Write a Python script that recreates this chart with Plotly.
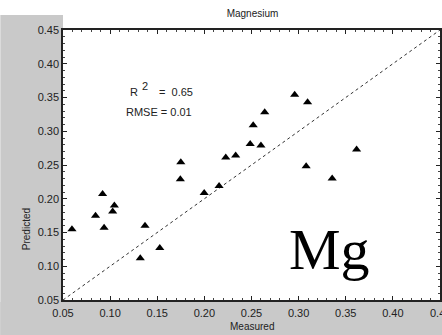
import plotly.graph_objects as go

measured = [0.0595, 0.0845, 0.092, 0.0936, 0.1027, 0.1045, 0.137, 0.132, 0.1527,
            0.175, 0.1745, 0.1998, 0.2156, 0.2227, 0.2332, 0.2486, 0.2518, 0.260,
            0.264, 0.2958, 0.3095, 0.3615, 0.308, 0.3356]
predicted = [0.155, 0.175, 0.207, 0.157, 0.181, 0.190, 0.160, 0.112, 0.127,
             0.254, 0.229, 0.2085, 0.219, 0.261, 0.264, 0.281, 0.309, 0.279,
             0.328, 0.354, 0.343, 0.273, 0.248, 0.230]
line_pts = [0.05, 0.45]
tick_vals = [0.05, 0.10, 0.15, 0.20, 0.25, 0.30, 0.35, 0.40, 0.45]
tick_text = ["0.05", "0.10", "0.15", "0.20", "0.25", "0.30", "0.35", "0.40", "0.45"]

W, H = 442, 335
L, R, T, B = 63, 0, 30, 35
pw, ph = W - L - R, H - T - B

fig = go.Figure()
fig.add_trace(go.Scatter(x=line_pts, y=line_pts, mode="lines",
                         line=dict(color="#333333", width=1, dash="dot"),
                         hoverinfo="skip", showlegend=False))
fig.add_trace(go.Scatter(x=measured, y=predicted, mode="markers",
                         marker=dict(symbol="triangle-up", size=8, color="black"),
                         showlegend=False))

font = "Liberation Sans, Arial, sans-serif"
txt = "#222222"
axis_common = dict(
    range=[0.05, 0.45], tickvals=tick_vals, ticktext=tick_text,
    showgrid=False, zeroline=False, showline=True, linecolor=txt,
    linewidth=1.5, mirror="ticks", ticks="inside", ticklen=4, tickcolor=txt,
    minor=dict(dtick=0.01, ticks="inside", ticklen=2, tickcolor="#444444"),
    tickfont=dict(family=font, size=11, color=txt),
)


def px_x(p):
    return (p - L) / pw


def px_y(p):
    return (H - B - p) / ph


annotations = [
    dict(text="Measured", xref="paper", yref="paper", x=0.5, y=px_y(326),
         yanchor="middle", showarrow=False, font=dict(family=font, size=10, color=txt)),
    dict(text="Predicted", xref="paper", yref="paper", x=px_x(26), y=px_y(229),
         xanchor="center", yanchor="middle", textangle=-90, showarrow=False,
         font=dict(family=font, size=10, color=txt)),
    dict(text="R", xref="paper", yref="paper", x=px_x(128), y=px_y(92),
         xanchor="left", yanchor="middle", showarrow=False,
         font=dict(family=font, size=11, color=txt)),
    dict(text="2", xref="paper", yref="paper", x=px_x(140), y=px_y(86),
         xanchor="left", yanchor="middle", showarrow=False,
         font=dict(family=font, size=11, color=txt)),
    dict(text="=  0.65", xref="paper", yref="paper", x=px_x(158), y=px_y(92),
         xanchor="left", yanchor="middle", showarrow=False,
         font=dict(family=font, size=11, color=txt)),
    dict(text="RMSE = 0.01", xref="paper", yref="paper", x=px_x(124), y=px_y(112),
         xanchor="left", yanchor="middle", showarrow=False,
         font=dict(family=font, size=11, color=txt)),
    dict(text="Mg", xref="paper", yref="paper", x=px_x(331), y=px_y(249),
         xanchor="center", yanchor="middle", showarrow=False,
         font=dict(family="Liberation Serif, Times New Roman, serif", size=58, color="black")),
    dict(text=tick_text[-1], xref="x", yref="paper", x=tick_vals[-1], y=px_y(313),
         xanchor="center", yanchor="middle", showarrow=False,
         font=dict(family=font, size=11, color=txt)),
]

fig.update_layout(
    width=W, height=H,
    margin=dict(l=L, r=R, t=T, b=B),
    paper_bgcolor="white", plot_bgcolor="white",
    xaxis=dict(**axis_common, ticklabelstandoff=2),
    yaxis=dict(**axis_common),
    title=dict(text="Magnesium", x=(L + pw / 2) / W, xanchor="center",
               y=1 - 13 / H, yanchor="middle",
               font=dict(family=font, size=10, color=txt)),
    shapes=[
        dict(type="rect", xref="paper", yref="paper", layer="below",
             x0=-L / pw, x1=0, y0=-B / ph, y1=(ph + 15) / ph,
             fillcolor="#c9c9c9", line=dict(width=0)),
        dict(type="rect", xref="paper", yref="paper", layer="below",
             x0=-L / pw, x1=1.01, y0=-B / ph, y1=-2 / ph,
             fillcolor="#c9c9c9", line=dict(width=0)),
    ],
    annotations=annotations,
)

fig.write_html("out.html")
